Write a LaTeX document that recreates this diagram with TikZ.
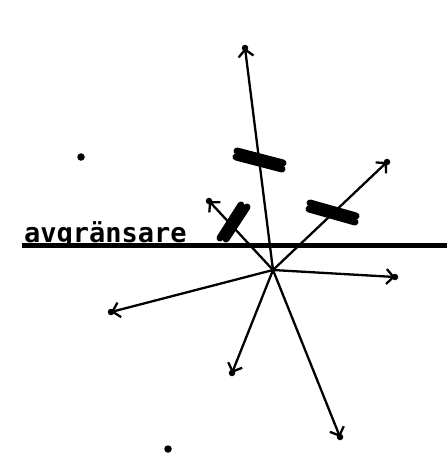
\documentclass[tikz,border=0pt]{standalone}
\usepackage{fontspec}
\newfontfamily\labelfont{DejaVu Sans Mono}
\usetikzlibrary{arrows.meta}

\tikzset{
  ray/.style={line width=2.3pt, line cap=round,
    -{Straight Barb[length=7pt,width=15pt,line width=2.3pt]}},
  tipdot/.style={circle, fill, inner sep=0pt, minimum size=6.5pt},
  spot/.style={circle, fill, inner sep=0pt, minimum size=7.5pt},
  bar/.style={line width=7pt, line cap=round},
}

\begin{document}
\begin{tikzpicture}[x=1pt,y=-1pt]
    \useasboundingbox (0,0) rectangle (447,468);
    % limiter line and label
    \coordinate (lineL) at (22,245);
    \coordinate (lineR) at (447,245);
    \draw[line width=5pt] (lineL) -- (lineR);
    \node[font=\labelfont\bfseries\fontsize{27}{27}\selectfont, anchor=base west, inner sep=0pt] (label) at (24,242) {avgränsare};

    % centre and ray ends
    \coordinate (o) at (273,270);
    \node[tipdot] (up) at (245,48) {};
    \node[tipdot] (ur) at (387,162) {};
    \node[tipdot] (ul) at (209,201) {};
    \node[tipdot] (rt) at (395,277) {};
    \node[tipdot] (lt) at (111,312) {};
    \node[tipdot] (dl) at (232,373) {};
    \node[tipdot] (dr) at (340,437) {};
    \foreach \t in {up,ur,ul,rt,lt,dl,dr}
      \draw[ray] (o) -- (\t.center);

    % blocking bars
    \draw[bar] (237,151) -- (283,163);
    \draw[bar] (236,157) -- (282,169);
    \draw[bar] (310,203) -- (356,216);
    \draw[bar] (309,209) -- (355,222);
    \draw[bar] (247,207) -- (226,239);
    \draw[bar] (241,205) -- (220,238);

    % loose points
    \node[spot] (p1) at (81,157) {};
    \node[spot] (p2) at (168,449) {};
\end{tikzpicture}
\end{document}
